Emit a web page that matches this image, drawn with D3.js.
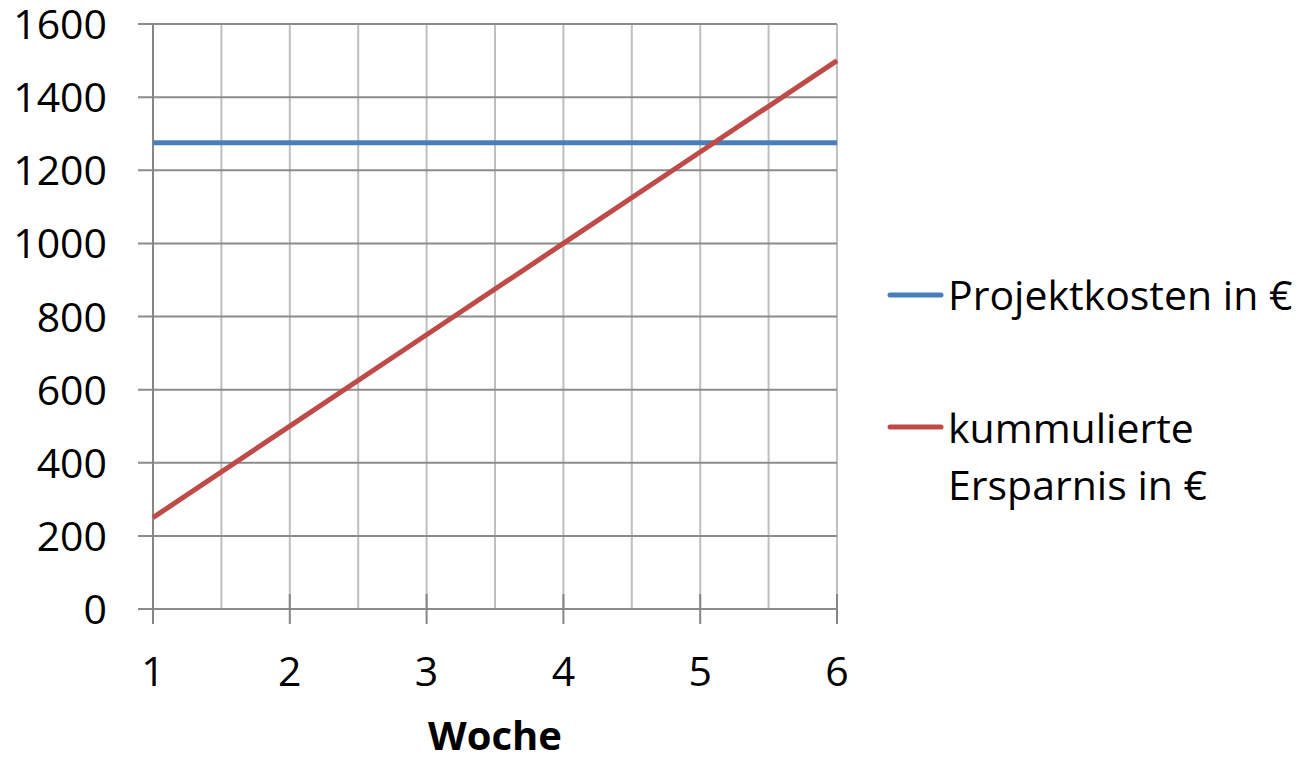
<!DOCTYPE html>
<html>
<head>
<meta charset="utf-8">
<script src="https://cdn.jsdelivr.net/npm/d3@7"></script>
<style>
  html, body { margin: 0; padding: 0; background: #fff; }
  svg text { font-family: "Open Sans", "Liberation Sans", sans-serif; fill: #000; }
</style>
</head>
<body>
<svg id="chart" width="1304" height="757"></svg>
<script>
// Weekly data: fixed project cost vs. cumulative savings
const weeks = [1, 2, 3, 4, 5, 6];
const projektkosten = [1275, 1275, 1275, 1275, 1275, 1275];
const ersparnis = [250, 500, 750, 1000, 1250, 1500];
const yTicks = [0, 200, 400, 600, 800, 1000, 1200, 1400, 1600];
const xGrid = [1, 1.5, 2, 2.5, 3, 3.5, 4, 4.5, 5, 5.5, 6];
const seriesNames = ["Projektkosten in €", "kummulierte Ersparnis in €"];
const seriesColors = ["#4a7ebb", "#be4b48"];

const svg = d3.select("#chart");
const plot = { left: 153, right: 837, top: 24, bottom: 609 };

const x = d3.scaleLinear().domain([1, 6]).range([plot.left, plot.right]);
const y = d3.scaleLinear().domain([0, 1600]).range([plot.bottom, plot.top]);

// vertical gridlines (light)
svg.append("g").selectAll("line").data(xGrid.filter(d => d > 1)).join("line")
  .attr("x1", d => x(d)).attr("x2", d => x(d))
  .attr("y1", plot.top).attr("y2", plot.bottom)
  .attr("stroke", "#bfbfbf").attr("stroke-width", 2);

// horizontal gridlines with outward ticks
svg.append("g").selectAll("line").data(yTicks).join("line")
  .attr("x1", plot.left - 15).attr("x2", plot.right)
  .attr("y1", d => y(d)).attr("y2", d => y(d))
  .attr("stroke", "#8c8c8c").attr("stroke-width", 2);

// y axis line
svg.append("line")
  .attr("x1", plot.left).attr("x2", plot.left).attr("y1", plot.top).attr("y2", plot.bottom)
  .attr("stroke", "#868686").attr("stroke-width", 2);

// x axis ticks at whole weeks (crossing the axis)
svg.append("g").selectAll("line").data(weeks).join("line")
  .attr("x1", d => x(d)).attr("x2", d => x(d))
  .attr("y1", plot.bottom - 15).attr("y2", plot.bottom + 15)
  .attr("stroke", "#868686").attr("stroke-width", 2);

// y tick labels
svg.append("g").selectAll("text").data(yTicks).join("text")
  .attr("x", 107).attr("y", d => y(d) + 15)
  .attr("text-anchor", "end")
  .attr("font-size", 41)
  .text(d => d);

// x tick labels
svg.append("g").selectAll("text").data(weeks).join("text")
  .attr("x", d => x(d)).attr("y", 686)
  .attr("text-anchor", "middle")
  .attr("font-size", 41)
  .text(d => d);

// x axis title
svg.append("text")
  .attr("x", x(3.5)).attr("y", 750)
  .attr("text-anchor", "middle")
  .attr("font-size", 40).attr("font-weight", "bold")
  .text("Woche");

// series lines
const line = d3.line().x(d => x(d[0])).y(d => y(d[1]));
[projektkosten, ersparnis].forEach((vals, i) => {
  svg.append("path")
    .datum(weeks.map((w, j) => [w, vals[j]]))
    .attr("d", line)
    .attr("fill", "none")
    .attr("stroke", seriesColors[i])
    .attr("stroke-width", 5);
});

// legend
const legend = svg.append("g");
const legendY = [295, 427];
seriesNames.forEach((name, i) => {
  legend.append("line")
    .attr("x1", 890).attr("x2", 941)
    .attr("y1", legendY[i]).attr("y2", legendY[i])
    .attr("stroke", seriesColors[i]).attr("stroke-width", 5)
    .attr("stroke-linecap", "round");
});
legend.append("text")
  .attr("x", 948).attr("y", 310).attr("font-size", 41)
  .text(seriesNames[0]);
const t2 = legend.append("text").attr("x", 948).attr("y", 443).attr("font-size", 41);
t2.append("tspan").attr("x", 948).text("kummulierte");
t2.append("tspan").attr("x", 948).attr("dy", 57).text("Ersparnis in €");
</script>
</body>
</html>
